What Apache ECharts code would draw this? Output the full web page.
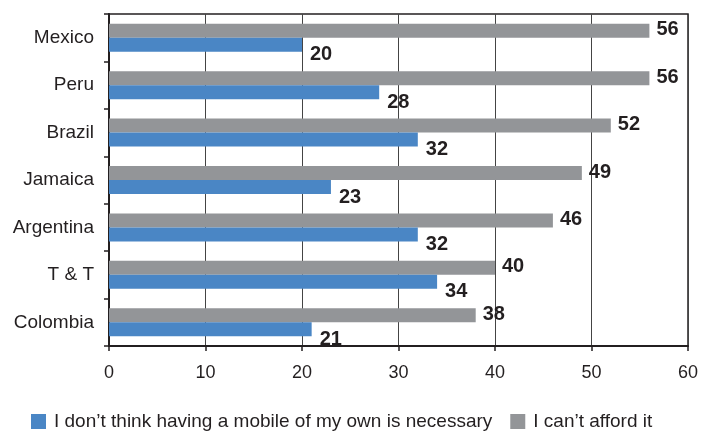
<!DOCTYPE html>
<html>
<head>
<meta charset="utf-8">
<script src="https://cdn.jsdelivr.net/npm/echarts@6/dist/echarts.min.js"></script>
<style>
  html, body { margin: 0; padding: 0; background: #fff; }
  #chart { width: 715px; height: 436px; }
</style>
</head>
<body>
<div id="chart"></div>
<script>
const countries = ['Mexico', 'Peru', 'Brazil', 'Jamaica', 'Argentina', 'T & T', 'Colombia']
const notNecessary = [20, 28, 32, 23, 32, 34, 21]
const cantAfford = [56, 56, 52, 49, 46, 40, 38]
const xTicks = [0, 10, 20, 30, 40, 50, 60]

const FONT = '"Liberation Sans Narrow", "Liberation Sans", Arial, sans-serif'
const INK = '#231f20'

const chart = echarts.init(document.getElementById('chart'))

chart.setOption({
  backgroundColor: '#fff',
  animation: false,
  grid: {
    left: 109,
    right: 27,
    top: 14,
    bottom: 90,
    show: true,
    borderColor: INK,
    borderWidth: 1.5,
    containLabel: false
  },
  legend: {
    bottom: 0,
    left: 26,
    icon: 'rect',
    itemWidth: 15,
    itemHeight: 15,
    itemGap: 18,
    data: ['I don\u2019t think having a mobile of my own is necessary', 'I can\u2019t afford it'],
    textStyle: { color: INK, fontSize: 19, fontFamily: FONT, padding: [0, 0, 0, 3] }
  },
  xAxis: {
    type: 'value',
    min: xTicks[0],
    max: xTicks[xTicks.length - 1],
    interval: 10,
    axisLine: { show: true, lineStyle: { color: INK, width: 2 } },
    axisTick: { show: true, length: 5, lineStyle: { color: INK, width: 1.5 } },
    axisLabel: { color: INK, fontSize: 18, fontFamily: FONT, margin: 18 },
    splitLine: { show: true, lineStyle: { color: '#444', width: 1 } }
  },
  yAxis: {
    type: 'category',
    inverse: true,
    data: countries,
    axisLine: { show: true, lineStyle: { color: INK, width: 2 } },
    axisTick: { show: true, length: 5, lineStyle: { color: INK, width: 1.5 } },
    axisLabel: { color: INK, fontSize: 19, fontFamily: FONT, margin: 15 }
  },
  series: [
    {
      name: 'I can\u2019t afford it',
      type: 'bar',
      data: cantAfford,
      barWidth: 14,
      barGap: '0%',
      itemStyle: { color: '#939598' },
      label: {
        show: true,
        position: 'right',
        distance: 7,
        offset: [0, -1],
        color: INK,
        fontSize: 20,
        fontWeight: 'bold',
        fontFamily: FONT
      }
    },
    {
      name: 'I don\u2019t think having a mobile of my own is necessary',
      type: 'bar',
      data: notNecessary,
      barWidth: 14,
      barGap: '0%',
      itemStyle: { color: '#4a86c5' },
      label: {
        show: true,
        position: 'right',
        distance: 8,
        offset: [0, 10],
        color: INK,
        fontSize: 20,
        fontWeight: 'bold',
        fontFamily: FONT
      }
    }
  ]
})
</script>
</body>
</html>
